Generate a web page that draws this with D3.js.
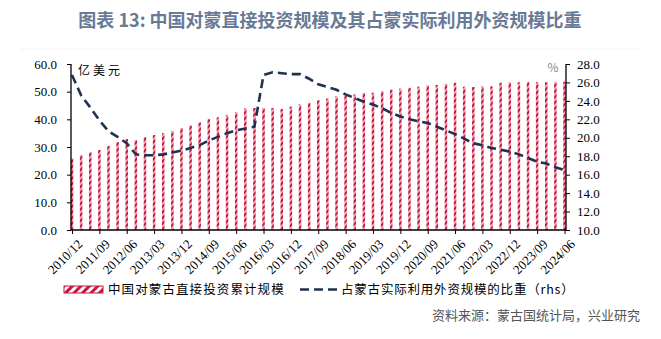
<!DOCTYPE html>
<html><head><meta charset="utf-8">
<script src="https://cdn.jsdelivr.net/npm/d3@7"></script>
<style>body{margin:0;background:#fff;}svg{display:block;}</style>
</head><body>
<svg id="c" width="661" height="339"></svg>
<script>
const title = "图表 13: 中国对蒙直接投资规模及其占蒙实际利用外资规模比重";
const barName = "中国对蒙古直接投资累计规模";
const lineName = "占蒙古实际利用外资规模的比重（rhs）";
const source = "资料来源：蒙古国统计局，兴业研究";
const leftTicks = [0,10,20,30,40,50,60];
const rightTicks = [10,12,14,16,18,20,22,24,26,28];
// quarterly categories 2010Q4 .. 2024Q2
const categories = [];
for (let y = 2010; y <= 2024; y++) for (const m of ["03","06","09","12"]) {
  const k = y + "/" + m;
  if (k >= "2010/12" && k <= "2024/06") categories.push(k);
}
const tickLabels = ["2010/12","2011/09","2012/06","2013/03","2013/12","2014/09","2015/06","2016/03","2016/12","2017/09","2018/06","2019/03","2019/12","2020/09","2021/06","2022/03","2022/12","2023/09","2024/06"];
const investment = [25.9,27.1,28.1,28.9,30.4,31.8,32.9,32.5,33.6,34.3,35.0,35.8,36.9,37.8,38.9,40.1,40.7,41.6,42.6,44.0,44.1,44.1,44.1,43.7,44.6,45.4,45.9,46.9,47.5,48.3,48.7,49.0,49.5,49.6,50.2,50.7,51.1,51.4,51.8,52.3,52.4,52.8,53.2,51.8,51.7,51.9,51.9,53.2,53.4,53.4,53.5,53.5,53.4,53.4,53.6];
const share = [26.8,24.6,23.3,21.9,20.7,20.1,19.4,18.2,18.1,18.1,18.2,18.4,18.6,18.9,19.2,19.7,20.1,20.5,20.8,21.0,21.2,26.8,27.1,27.0,26.9,26.9,26.4,25.8,25.5,25.2,24.7,24.3,23.9,23.6,23.2,22.7,22.3,22.0,21.8,21.6,21.2,20.8,20.4,19.9,19.4,19.2,18.9,18.7,18.5,18.2,17.8,17.4,17.2,16.8,16.5];

const svg = d3.select("#c");
const L = 71, R = 566, T = 64, B = 230;
const x = d3.scalePoint().domain(categories).range([72, 564.5]);
const yL = d3.scaleLinear().domain([0,60]).range([B,T]);
const yR = d3.scaleLinear().domain([10,28]).range([B,T]);
const serif = "'Liberation Serif','Times New Roman',serif";
const cjk = "'Noto Sans CJK SC',sans-serif";

const defs = svg.append("defs");
const pat = defs.append("pattern").attr("id","hatch").attr("patternUnits","userSpaceOnUse")
  .attr("width",4).attr("height",4).attr("patternTransform","rotate(45)");
pat.append("rect").attr("width",4).attr("height",4).attr("fill","#f0a0b0");
pat.append("rect").attr("width",2).attr("height",4).attr("fill","#c4153c");
const pat2 = defs.append("pattern").attr("id","hatch2").attr("patternUnits","userSpaceOnUse")
  .attr("width",6).attr("height",6).attr("patternTransform","rotate(45)");
pat2.append("rect").attr("width",6).attr("height",6).attr("fill","#fff");
pat2.append("rect").attr("width",3).attr("height",6).attr("fill","#c8163e");

// title
svg.append("text").attr("x",330).attr("y",27).attr("text-anchor","middle")
  .attr("font-family",cjk).attr("font-weight","bold").attr("font-size",18)
  .attr("fill","#687a96").text(title);
svg.append("line").attr("x1",20).attr("x2",640).attr("y1",49).attr("y2",49).attr("stroke","#f4f4f4");

// bars
svg.append("g").selectAll("rect").data(investment).join("rect")
  .attr("x",(d,i)=>x(categories[i])-1.25).attr("width",2.5)
  .attr("y",d=>yL(d)).attr("height",d=>B-yL(d))
  .attr("fill","url(#hatch)");

// line
svg.append("path").datum(share)
  .attr("d", d3.line().x((d,i)=>x(categories[i])).y(d=>yR(d)))
  .attr("fill","none").attr("stroke","#1f3250").attr("stroke-width",2.6)
  .attr("stroke-dasharray","9,5");

// left axis
const gl = svg.append("g").attr("transform",`translate(${L},0)`)
  .call(d3.axisLeft(yL).tickValues(leftTicks).tickFormat(d3.format(".1f")).tickSize(4).tickPadding(10));
gl.select(".domain").attr("d",`M0,${T}V${B}`).attr("stroke","#000").attr("stroke-width",1.3);
gl.selectAll("text").attr("font-family",serif).attr("font-size",13).attr("fill","#000");

// right axis
const gr = svg.append("g").attr("transform",`translate(${R},0)`)
  .call(d3.axisRight(yR).tickValues(rightTicks).tickFormat(d3.format(".1f")).tickSize(4).tickPadding(7));
gr.select(".domain").attr("d",`M0,${T}V${B}`).attr("stroke","#000").attr("stroke-width",1.3);
gr.selectAll("text").attr("font-family",serif).attr("font-size",13).attr("fill","#000");

// x axis
const gx = svg.append("g").attr("transform",`translate(0,${B})`)
  .call(d3.axisBottom(x).tickValues(tickLabels).tickSize(4).tickPadding(4));
gx.select(".domain").attr("d",`M${L},0H${R}`).attr("stroke","#000").attr("stroke-width",1.3);
gx.selectAll("text").attr("font-family",serif).attr("font-size",13).attr("fill","#000")
  .attr("text-anchor","end").attr("dy","0.35em")
  .attr("transform","translate(2,6) rotate(-45)");

// unit labels
svg.append("text").attr("x",78).attr("y",75).attr("font-family",cjk).attr("font-size",12)
  .attr("letter-spacing",3).attr("fill","#000").text("亿美元");
svg.append("text").attr("x",553).attr("y",72).attr("text-anchor","middle").attr("font-family",cjk)
  .attr("font-size",12).attr("fill","#888").text("%");

// legend
svg.append("rect").attr("x",64).attr("y",286).attr("width",39).attr("height",7)
  .attr("fill","url(#hatch2)").attr("stroke","#c8163e").attr("stroke-width",1);
svg.append("text").attr("x",108).attr("y",294).attr("font-family",cjk).attr("font-size",12.5)
  .attr("letter-spacing",1.1).attr("fill","#000").text(barName);
svg.append("line").attr("x1",300).attr("x2",339).attr("y1",289.5).attr("y2",289.5)
  .attr("stroke","#1f3250").attr("stroke-width",2.6).attr("stroke-dasharray","9,5");
svg.append("text").attr("x",341).attr("y",294).attr("font-family",cjk).attr("font-size",12.5)
  .attr("letter-spacing",0.8).attr("fill","#000").text(lineName);

// source
svg.append("text").attr("x",640).attr("y",320).attr("text-anchor","end").attr("font-family",cjk)
  .attr("font-size",13).attr("fill","#555").text(source);
</script>
</body></html>
